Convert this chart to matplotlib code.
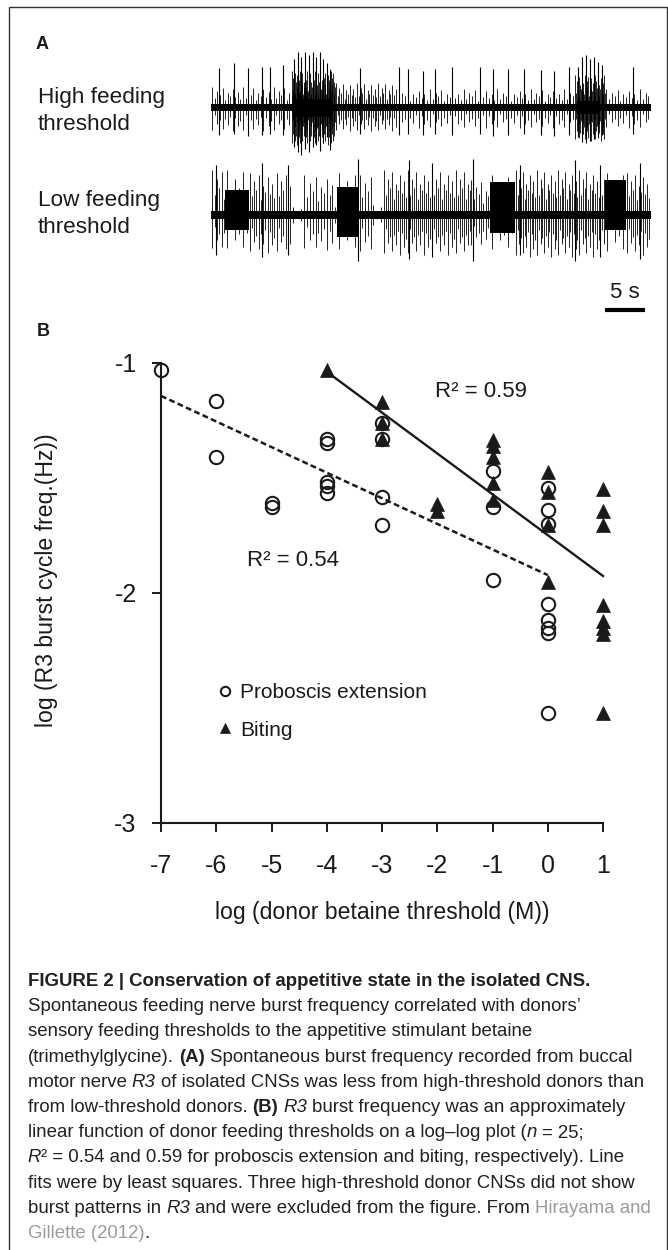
import numpy as np
import matplotlib
matplotlib.use('Agg')
import matplotlib.pyplot as plt
from matplotlib.patches import Rectangle

plt.rcParams['font.family'] = ['Liberation Sans', 'DejaVu Sans']
plt.rcParams['axes.unicode_minus'] = False
plt.rcParams['lines.scale_dashes'] = False

W, H, DPI = 668, 1250, 100
INK = '#1a1a1a'

# ---------------- Panel B data ----------------
pe_x = [-7, -6, -6, -5, -5, -4, -4, -4, -4, -4, -3, -3, -3, -3,
        -1, -1, -1, 0, 0, 0, 0, 0, 0, 0, 0]
pe_y = [-1.03, -1.165, -1.41, -1.607, -1.625, -1.33, -1.349, -1.516, -1.533, -1.567,
        -1.262, -1.33, -1.581, -1.704, -1.47, -1.627, -1.943,
        -1.545, -1.64, -1.70, -2.048, -2.117, -2.154, -2.173, -2.52]
bi_x = [-4, -3, -3, -3, -2, -2, -1, -1, -1, -1, -1, 0, 0, 0, 0,
        1, 1, 1, 1, 1, 1, 1, 1]
bi_y = [-1.03, -1.168, -1.262, -1.33, -1.613, -1.642, -1.335, -1.36, -1.41, -1.52, -1.596,
        -1.473, -1.56, -1.705, -1.951, -1.55, -1.642, -1.705, -2.052, -2.12, -2.154, -2.178, -2.523]
pe_fit_x = [-7, 0]
pe_fit_y = [-1.143, -1.922]
bi_fit_x = [-4, 1]
bi_fit_y = [-1.038, -1.926]
pe_r2 = "R² = 0.54"
bi_r2 = "R² = 0.59"
x_ticks = [-7, -6, -5, -4, -3, -2, -1, 0, 1]
y_ticks = [-3, -2, -1]
series_labels = ["Proboscis extension", "Biting"]

# ---------------- Panel A data (schematic recordings, time in s) ----------------
T_END = 55.0
SCALE_S = 5
amp_pattern = [1.0, 0.45, 0.8, 0.6, 0.95, 0.35, 0.7, 0.55, 0.9, 0.5, 0.75, 0.4]

high_seg_t0 = [0.0, 10.1, 15.5, 23.0, 45.5, 49.25]
high_seg_t1 = [10.1, 15.5, 23.0, 45.5, 49.25, 55.0]
high_seg_dt = [0.32, 0.08, 0.22, 0.35, 0.1, 0.35]
high_seg_up = [20, 36, 24, 18, 32, 18]
high_seg_dn = [24, 38, 24, 21, 34, 21]
high_tall_t = [1.0, 2.9, 4.6, 6.4, 7.4, 9.0,
               10.4, 10.9, 11.3, 11.8, 12.2, 12.7, 13.1, 13.6, 14.0, 14.5, 14.9,
               18.6, 23.5, 24.6, 26.5, 28.0, 30.1, 33.6, 35.25, 37.1, 39.1, 41.25, 42.9, 44.75,
               45.9, 46.4, 46.9, 47.4, 47.9, 48.4, 48.9, 52.75]
high_tall_up = [39, 44, 39, 40, 40, 42,
                48, 55, 50, 55, 52, 55, 50, 55, 48, 44, 38,
                39, 40, 38, 36, 38, 40, 40, 38, 38, 38, 37, 36, 40,
                40, 50, 52, 48, 50, 45, 42, 40]
high_tall_dn = [28, 27, 29, 28, 27, 28,
                40, 45, 48, 42, 45, 40, 38, 44, 36, 30, 43,
                27, 28, 27, 28, 27, 28, 27, 29, 28, 27, 28, 29, 28,
                30, 35, 36, 34, 32, 30, 28, 27]
high_blk_t0 = [10.4, 45.8]
high_blk_t1 = [15.0, 48.6]
high_blk_up = [8, 6]
high_blk_dn = [10, 7]

low_seg_t0 = [0.0, 1.7, 4.7, 10.0, 11.5, 15.2, 15.7, 18.4, 20.0, 21.5, 32.4, 34.9, 38.0, 49.25, 51.9]
low_seg_t1 = [1.7, 4.7, 10.0, 11.5, 15.2, 15.7, 18.4, 20.0, 21.5, 32.4, 34.9, 38.0, 49.25, 51.9, 55.0]
low_seg_dt = [0.3, 0.5, 0.28, 0.5, 0.35, 0.5, 0.5, 0.35, 0.5, 0.25, 0.3, 0.5, 0.22, 0.5, 0.25]
low_seg_up = [45, 45, 42, 8, 40, 8, 42, 40, 10, 45, 35, 40, 45, 42, 42]
low_seg_dn = [35, 35, 38, 8, 35, 8, 36, 38, 10, 40, 32, 36, 42, 38, 40]
low_tall_t = [0.6, 6.4, 9.6, 18.4, 24.75, 27.6, 32.75, 38.6, 45.5, 48.6, 53.6]
low_tall_up = [50, 52, 50, 56, 55, 52, 56, 50, 55, 50, 52]
low_tall_dn = [40, 42, 40, 46, 44, 42, 46, 40, 46, 42, 44]
low_blk_t0 = [1.7, 15.7, 34.9, 49.25]
low_blk_t1 = [4.7, 18.4, 38.0, 51.9]
low_blk_up = [25, 28, 33, 35]
low_blk_dn = [15, 22, 18, 15]

trace_names = [("High feeding", "threshold"), ("Low feeding", "threshold")]

# ---------------- Caption ----------------
K, G = '#231f20', '#9b9b9b'
caption = [
    [("FIGURE 2 | Conservation of appetitive state in the isolated CNS.", 'b', K, True)],
    [("Spontaneous feeding nerve burst frequency correlated with donors’", 'n', K, True)],
    [("sensory feeding thresholds to the appetitive stimulant betaine", 'n', K, True)],
    [("(trimethylglycine).", 'n', K, True), ("(A)", 'b', K, True),
     ("Spontaneous burst frequency recorded from buccal", 'n', K, True)],
    [("motor nerve", 'n', K, True), ("R3", 'i', K, True),
     ("of isolated CNSs was less from high-threshold donors than", 'n', K, True)],
    [("from low-threshold donors.", 'n', K, True), ("(B)", 'b', K, True), ("R3", 'i', K, True),
     ("burst frequency was an approximately", 'n', K, True)],
    [("linear function of donor feeding thresholds on a log–log plot (", 'n', K, True),
     ("n", 'i', K, False), ("= 25;", 'n', K, True)],
    [("R", 'i', K, True), ("² = 0.54 and 0.59 for proboscis extension and biting, respectively). Line", 'n', K, False)],
    [("fits were by least squares. Three high-threshold donor CNSs did not show", 'n', K, True)],
    [("burst patterns in", 'n', K, True), ("R3", 'i', K, True),
     ("and were excluded from the figure. From", 'n', K, True), ("Hirayama and", 'n', G, True)],
    [("Gillette (2012)", 'n', G, True), (".", 'n', K, False)],
]

# ---------------- Figure ----------------
fig = plt.figure(figsize=(W / DPI, H / DPI), dpi=DPI)
fig.patch.set_facecolor('white')


def fx(px):
    return px / W


def fy(py):
    return 1 - py / H


fig.add_artist(Rectangle((fx(9), fy(1260)), fx(667) - fx(9), fy(7) - fy(1260),
                         transform=fig.transFigure, fill=False, lw=1.0, ec='#333333'))

# ---- Panel A ----
fig.text(fx(36), fy(49), "A", fontsize=13, fontweight='bold', color=INK)
axA = fig.add_axes([fx(211), fy(320), fx(651) - fx(211), fy(40) - fy(320)])
axA.set_xlim(0, T_END)
axA.set_ylim(-213, 67)
axA.axis('off')


def draw_trace(ax, base, band, s0, s1, sdt, sup, sdn, tt, tu, td, b0, b1, bu, bd):
    ax.fill_between([0, T_END], base - band, base + band, color='black', lw=0)
    for t0, t1, u, d in zip(b0, b1, bu, bd):
        ax.fill_between([t0, t1], base - d, base + u, color='black', lw=0)
    pat = np.array(amp_pattern)
    for t0, t1, dt, u, d in zip(s0, s1, sdt, sup, sdn):
        n = int(round((t1 - t0) / dt))
        k = np.arange(n)
        ts = t0 + dt * (k + 0.5)
        ax.vlines(ts, base - d * pat[(k + 4) % len(pat)], base + u * pat[k % len(pat)],
                  color='black', lw=0.6)
    ax.vlines(tt, base - np.array(td), base + np.array(tu), color='black', lw=0.8)


draw_trace(axA, 0, 3.5, high_seg_t0, high_seg_t1, high_seg_dt, high_seg_up, high_seg_dn,
           high_tall_t, high_tall_up, high_tall_dn, high_blk_t0, high_blk_t1, high_blk_up, high_blk_dn)
draw_trace(axA, -108, 4.0, low_seg_t0, low_seg_t1, low_seg_dt, low_seg_up, low_seg_dn,
           low_tall_t, low_tall_up, low_tall_dn, low_blk_t0, low_blk_t1, low_blk_up, low_blk_dn)

# scale bar
axA.plot([T_END - 0.75 - SCALE_S, T_END - 0.75], [-203, -203], color='black', lw=3, solid_capstyle='butt')
axA.text(T_END - 0.75 - SCALE_S / 2, -186, f"{SCALE_S} s", fontsize=16, ha='center', va='center', color=INK)

for (l1, l2), yb in zip(trace_names, [(102.7, 130), (206, 232.7)]):
    fig.text(fx(38), fy(yb[0]), l1, fontsize=16.2, color=INK, va='baseline')
    fig.text(fx(38), fy(yb[1]), l2, fontsize=16.2, color=INK, va='baseline')

# ---- Panel B ----
fig.text(fx(37), fy(336), "B", fontsize=13, fontweight='bold', color=INK)
axB = fig.add_axes([fx(138.9), fy(846), 486.2 / W, 506 / H])
axB.patch.set_alpha(0)
axB.set_xlim(-7.4, 1.4)
axB.set_ylim(-3.1, -0.9)
for s in ['top', 'right']:
    axB.spines[s].set_visible(False)
axB.spines['left'].set_position(('data', -7))
axB.spines['left'].set_bounds(-3, -1)
axB.spines['bottom'].set_position(('data', -3))
axB.spines['bottom'].set_bounds(-7, 1)
for s in ['left', 'bottom']:
    axB.spines[s].set_linewidth(1.5)
    axB.spines[s].set_color(INK)
axB.set_xticks(x_ticks)
axB.set_yticks(y_ticks)
axB.set_xticklabels([str(v) for v in x_ticks])
axB.set_yticklabels([str(v) for v in y_ticks])
axB.tick_params(direction='out', length=6.5, width=1.4, labelsize=18, colors=INK)
axB.tick_params(axis='x', pad=16)
axB.tick_params(axis='y', pad=11)

axB.plot(pe_fit_x, pe_fit_y, color=INK, lw=1.8, dashes=(4.2, 2.4))
axB.plot(bi_fit_x, bi_fit_y, color=INK, lw=1.7)
h_pe, = axB.plot(pe_x, pe_y, ls='none', marker='o', ms=9.6, mfc='none', mec=INK, mew=1.5,
                 label=series_labels[0], clip_on=False)
h_bi, = axB.plot(bi_x, bi_y, ls='none', marker='^', ms=9.5, mfc=INK, mec=INK, mew=0.5,
                 label=series_labels[1], clip_on=False)
axB.text(-2.04, -1.125, bi_r2, fontsize=16, va='center', color=INK)
axB.text(-5.45, -1.857, pe_r2, fontsize=16, va='center', color=INK)

axB.legend([h_pe, h_bi], series_labels, loc='upper left',
           bbox_to_anchor=(fx(216.7), fy(683)), bbox_transform=fig.transFigure,
           frameon=False, fontsize=15, handlelength=0.8, handletextpad=0.32,
           labelspacing=0.9, borderpad=0, borderaxespad=0, markerscale=0.7, numpoints=1,
           labelcolor=INK)

fig.text(fx(382), fy(913), "log (donor betaine threshold (M))", fontsize=16.6,
         ha='center', va='center', color=INK)
fig.text(fx(47), fy(580), "log (R3 burst cycle freq.(Hz))", fontsize=16.6, rotation=90,
         ha='center', va='center', color=INK)

# ---- Caption ----
renderer = fig.canvas.get_renderer()
STYLE = {'n': dict(), 'b': dict(fontweight='bold'), 'i': dict(fontstyle='italic')}


def text_w(s, size, st):
    t = fig.text(0, 0, s, fontsize=size, **STYLE[st])
    w = t.get_window_extent(renderer).width
    t.remove()
    return w


def space_w(size):
    return text_w("x x", size, 'n') - text_w("xx", size, 'n')


def line_w(segs, size):
    w = 0
    for i, (s, st, c, sp) in enumerate(segs):
        if i > 0 and sp:
            w += space_w(size)
        w += text_w(s, size, st)
    return w


cap_size = 12.0 * 620.0 / line_w(caption[4], 12.0)
for li, segs in enumerate(caption):
    x = 27.7
    yb = 986 + 25.2 * li
    for i, (s, st, c, sp) in enumerate(segs):
        if i > 0 and sp:
            x += space_w(cap_size)
        t = fig.text(fx(x), fy(yb), s, fontsize=cap_size, color=c, va='baseline', **STYLE[st])
        x += t.get_window_extent(renderer).width

fig.savefig('out.png', dpi=DPI, facecolor='white')
